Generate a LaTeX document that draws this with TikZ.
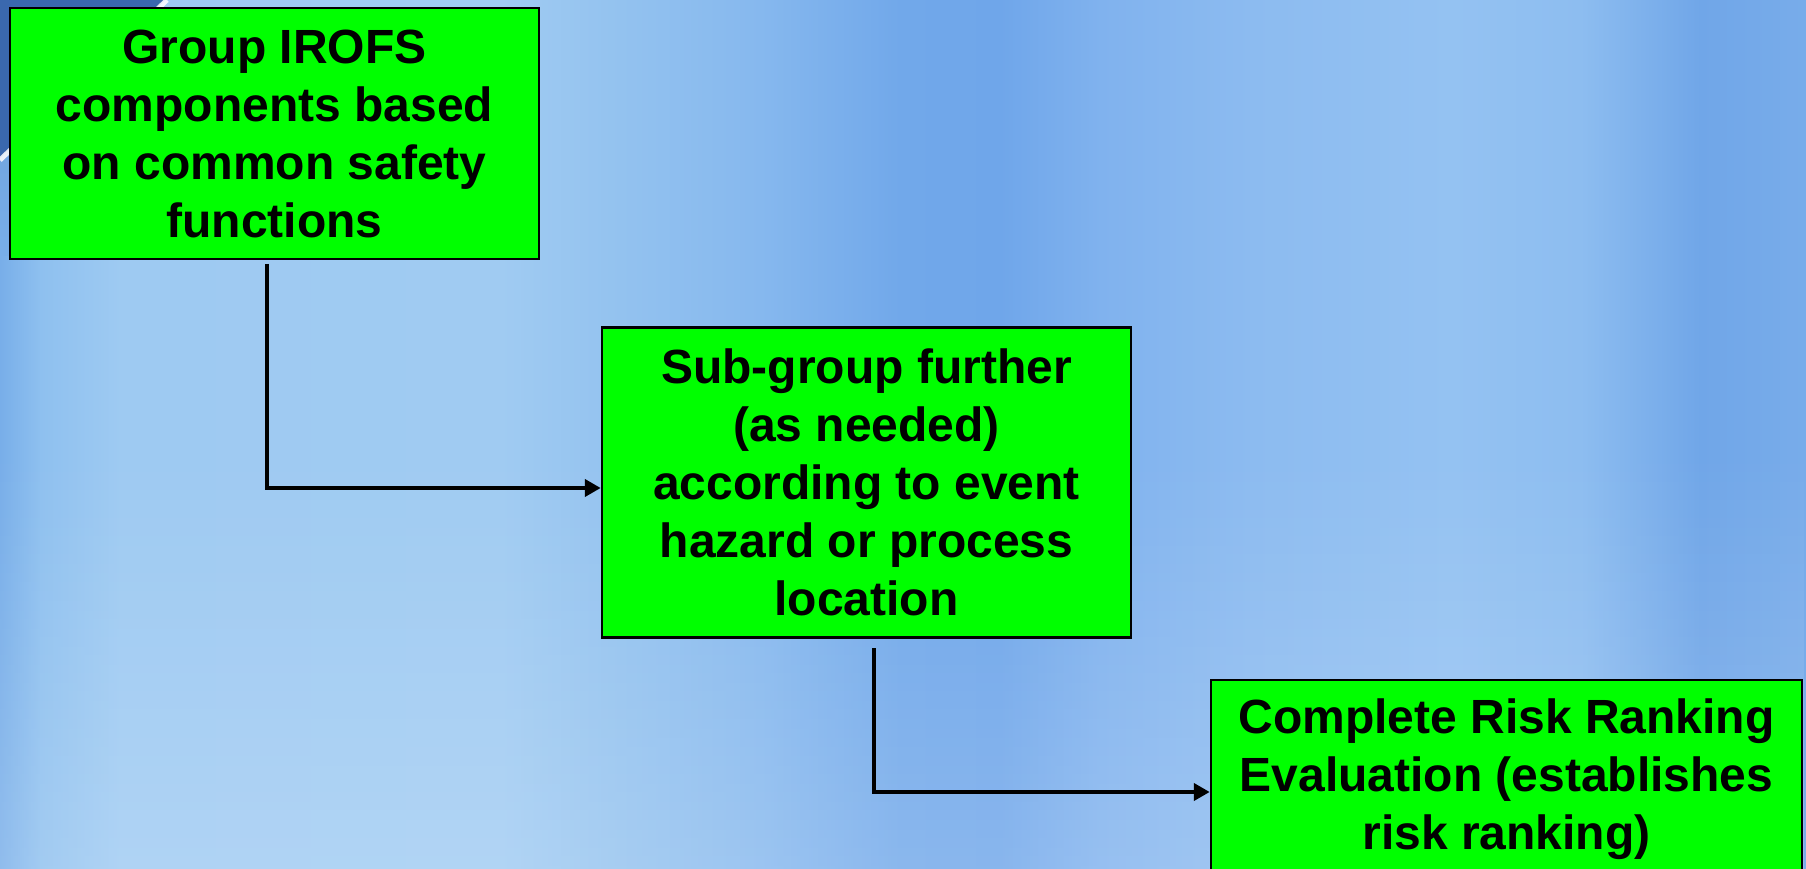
\documentclass[tikz,border=0pt]{standalone}
\usepackage{fontspec}
\setmainfont{Liberation Sans}
\usetikzlibrary{arrows.meta,fadings,calc}
\definecolor{boxgreen}{HTML}{00FF00}
\definecolor{bgA}{HTML}{78AEE9}
\definecolor{bgB}{HTML}{8EC0EF}
\definecolor{bgC}{HTML}{9ECAF2}
\definecolor{bgD}{HTML}{A0CBF2}
\definecolor{bgE}{HTML}{93C2EF}
\definecolor{bgF}{HTML}{86B8EE}
\definecolor{bgG}{HTML}{71A8EA}
\definecolor{bgH}{HTML}{6FA6EA}
\definecolor{bgI}{HTML}{80B2EE}
\definecolor{bgJ}{HTML}{8CBBF0}
\definecolor{bgK}{HTML}{94C2F2}
\definecolor{bgL}{HTML}{8DBDF0}
\definecolor{bgM}{HTML}{70A6E8}
\definecolor{bgN}{HTML}{78ACEA}
\definecolor{cornerdark}{HTML}{3A68AE}
\definecolor{cornermid}{HTML}{6A9AD6}
\begin{document}
\begin{tikzpicture}[x=0.1mm,y=-0.1mm,
  box/.style={draw=black,line width=0.25mm,fill=boxgreen,inner sep=0pt,align=center,
    font=\fontsize{13.66pt}{16.5pt}\selectfont\bfseries},
  conn/.style={line width=0.42mm,-{Triangle[length=1.6mm,width=1.7mm]}}]
\useasboundingbox (0,0) rectangle (1806,869);
\clip (0,0) rectangle (1806,869);
% background bands
\shade[left color=bgA,right color=bgB] (0,0) rectangle (41,869);
\shade[left color=bgB,right color=bgC] (40,0) rectangle (121,869);
\shade[left color=bgC,right color=bgD] (120,0) rectangle (501,869);
\shade[left color=bgD,right color=bgE] (500,0) rectangle (621,869);
\shade[left color=bgE,right color=bgF] (620,0) rectangle (761,869);
\shade[left color=bgF,right color=bgG] (760,0) rectangle (901,869);
\shade[left color=bgG,right color=bgH] (900,0) rectangle (1001,869);
\shade[left color=bgH,right color=bgI] (1000,0) rectangle (1101,869);
\shade[left color=bgI,right color=bgJ] (1100,0) rectangle (1251,869);
\shade[left color=bgJ,right color=bgK] (1250,0) rectangle (1451,869);
\shade[left color=bgK,right color=bgL] (1450,0) rectangle (1581,869);
\shade[left color=bgL,right color=bgM] (1580,0) rectangle (1701,869);
\shade[left color=bgM,right color=bgN] (1700,0) rectangle (1806,869);
\fill[white,opacity=0.18,path fading=north] (0,450) rectangle (1806,869);
% top-left corner decoration (mostly hidden behind the first box)
\shade[top color=cornermid,bottom color=bgA] (0,0) rectangle (14,256);
\fill[cornerdark] (0,0) -- (165,0) -- (0,158) -- cycle;
\draw[white,line width=0.5mm,opacity=0.85] (0,160) -- (167,0);
% boxes
\node[box,minimum width=52.9mm,minimum height=25.1mm] (b1) at (274.5,133.5)
  {Group IROFS\\components based\\on common safety\\functions};
\node[box,minimum width=52.9mm,minimum height=31mm] (b2) at (866.5,482.5)
  {Sub-group further\\(as needed)\\according to event\\hazard or process\\location};
\node[box,minimum width=59.1mm,minimum height=19.8mm] (b3) at (1506.5,779)
  {Complete Risk Ranking\\Evaluation (establishes\\risk ranking)};
% connectors
\coordinate (s1) at (267,264);
\coordinate (k1) at (267,488);
\coordinate (s2) at (874,648);
\coordinate (k2) at (874,792);
\draw[conn] (s1) -- (k1) -- (k1 -| b2.west);
\draw[conn] (s2) -- (k2) -- (k2 -| b3.west);
\end{tikzpicture}
\end{document}
